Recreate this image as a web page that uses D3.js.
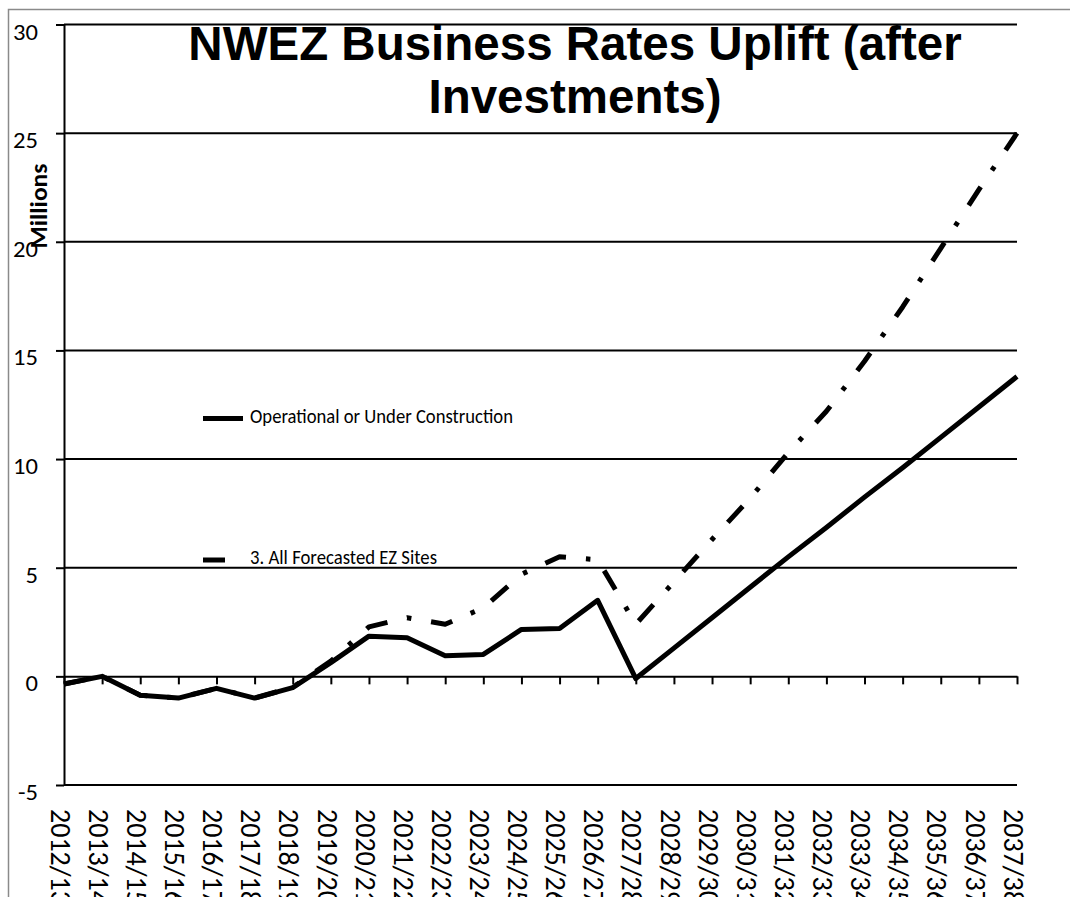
<!DOCTYPE html>
<html>
<head>
<meta charset="utf-8">
<script src="https://cdn.jsdelivr.net/npm/d3@7"></script>
<style>
  body { margin: 0; background: #fff; }
  svg { display: block; }
</style>
</head>
<body>
<div class="chart"></div>
<script>
// data
var years = ["2012/13", "2013/14", "2014/15", "2015/16", "2016/17", "2017/18", "2018/19",
  "2019/20", "2020/21", "2021/22", "2022/23", "2023/24", "2024/25", "2025/26", "2026/27",
  "2027/28", "2028/29", "2029/30", "2030/31", "2031/32", "2032/33", "2033/34", "2034/35",
  "2035/36", "2036/37", "2037/38"];
var operational = [-0.35, 0, -0.87, -1.0, -0.55, -1.0, -0.52, 0.63, 1.85, 1.78, 0.95, 1.01, 2.16,
  2.2, 3.5, -0.1, 1.3, 2.7, 4.1, 5.5, 6.85, 8.25, 9.6, 11.0, 12.4, 13.8];
var forecast = [-0.35, 0, -0.87, -1.0, -0.55, -1.0, -0.5, 0.7, 2.28, 2.7, 2.4, 3.15, 4.7,
  5.5, 5.37, 2.4, 4.35, 6.3, 8.2, 10.3, 12.2, 14.5, 17.0, 19.7, 22.4, 25.0];
var yTicks = [-5, 0, 5, 10, 15, 20, 25, 30];
var seriesNames = ["Operational or Under Construction", "3. All Forecasted EZ Sites"];
var titleLines = ["NWEZ Business Rates Uplift (after", "Investments)"];

var svgWidth = 1070, svgHeight = 897;
var plot = { left: 64, right: 1017, top: 24.5, bottom: 785 };
var labelFont = "Carlito, Calibri, Lato, sans-serif";

var svg = d3.select(".chart")
  .append("svg")
  .attr("width", svgWidth)
  .attr("height", svgHeight);

// outer chart border
svg.append("rect")
  .attr("x", 8.5).attr("y", 9.5)
  .attr("width", 1080).attr("height", 900)
  .attr("fill", "none")
  .attr("stroke", "#8a8a8a")
  .attr("stroke-width", 1.5);

var xScale = d3.scalePoint()
  .domain(years)
  .range([plot.left, plot.right]);
var yScale = d3.scaleLinear()
  .domain([-5, 30])
  .range([plot.bottom, plot.top]);

// gridlines
svg.append("g")
  .selectAll("line")
  .data(yTicks.filter(d => d !== 0))
  .enter()
  .append("line")
  .attr("x1", plot.left)
  .attr("x2", plot.right)
  .attr("y1", d => yScale(d))
  .attr("y2", d => yScale(d))
  .attr("stroke", "#000")
  .attr("stroke-width", 2);

// y axis
var yAxis = svg.append("g")
  .attr("transform", `translate(${plot.left},0)`)
  .call(d3.axisLeft(yScale).tickValues(yTicks).tickSize(8).tickSizeOuter(0).tickFormat(d => String(d)));
yAxis.select(".domain").attr("stroke-width", 2);
yAxis.selectAll(".tick line").attr("stroke-width", 2);
yAxis.selectAll(".tick text")
  .attr("x", 0)
  .attr("dy", "0.35em")
  .attr("transform", "translate(-26,6.5) scale(1.07,1)")
  .attr("text-anchor", "end")
  .style("font-family", labelFont)
  .style("font-size", "23px")
  .attr("fill", "#000");

// x axis on zero line (ticks only)
var xAxis = svg.append("g")
  .attr("transform", `translate(0,${yScale(0)})`)
  .call(d3.axisBottom(xScale).tickSize(8).tickSizeOuter(0).tickFormat(""));
xAxis.select(".domain").attr("stroke-width", 2);
xAxis.selectAll(".tick line").attr("stroke-width", 2);

// category labels under the plot
var xLabels = svg.append("g")
  .attr("transform", `translate(0,${plot.bottom})`)
  .call(d3.axisBottom(xScale).tickSize(0));
xLabels.select(".domain").remove();
xLabels.selectAll(".tick text")
  .attr("transform", "rotate(90)")
  .attr("x", 24)
  .attr("y", 4)
  .attr("dy", "0.35em")
  .attr("text-anchor", "start")
  .style("font-family", labelFont)
  .style("font-size", "28px")
  .attr("fill", "#000");

// lines
var line = d3.line()
  .x((d, i) => xScale(years[i]))
  .y(d => yScale(d));

svg.append("path")
  .attr("d", line(operational))
  .attr("fill", "none")
  .attr("stroke", "#000")
  .attr("stroke-width", 5)
  .attr("stroke-linejoin", "round");

var dashPattern = "22,20,4.5,20";
svg.append("path")
  .attr("d", line(forecast))
  .attr("fill", "none")
  .attr("stroke", "#000")
  .attr("stroke-width", 5)
  .attr("stroke-dasharray", dashPattern)
  .attr("stroke-linejoin", "round");

// legend
var legend = [
  { name: seriesNames[0], y: 418.5, textY: 423, len: 263, dash: null },
  { name: seriesNames[1], y: 560, textY: 563.5, len: 187, dash: dashPattern }
];
var lg = svg.append("g").selectAll("g").data(legend).enter().append("g");
lg.append("line")
  .attr("x1", 203).attr("x2", 243)
  .attr("y1", d => d.y).attr("y2", d => d.y)
  .attr("stroke", "#000")
  .attr("stroke-width", 5)
  .attr("stroke-dasharray", d => d.dash);
lg.append("text")
  .attr("x", 250)
  .attr("y", d => d.textY)
  .attr("textLength", d => d.len)
  .attr("lengthAdjust", "spacingAndGlyphs")
  .style("font-family", labelFont)
  .style("font-size", "20px")
  .text(d => d.name);

// y axis title
svg.append("text")
  .attr("transform", "translate(47,206) rotate(-90)")
  .attr("text-anchor", "middle")
  .attr("textLength", 85)
  .attr("lengthAdjust", "spacingAndGlyphs")
  .style("font-family", labelFont)
  .style("font-weight", "bold")
  .style("font-size", "24px")
  .text("Millions");

// title
svg.append("g").selectAll("text")
  .data(titleLines)
  .enter()
  .append("text")
  .attr("x", 575)
  .attr("y", (d, i) => 60 + i * 53)
  .attr("text-anchor", "middle")
  .style("font-family", "'Liberation Sans', Arial, sans-serif")
  .style("font-weight", "bold")
  .style("font-size", "47.5px")
  .text(d => d);
</script>
</body>
</html>
